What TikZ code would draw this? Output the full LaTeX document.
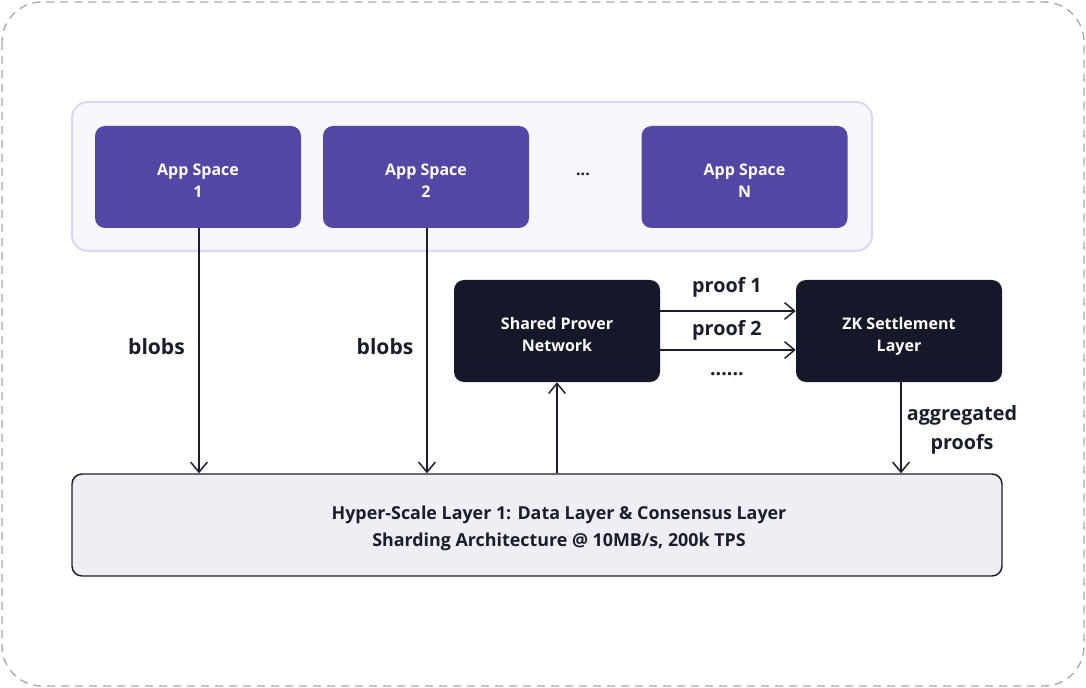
\documentclass[tikz,border=0pt]{standalone}
\usepackage{fontspec}
\setmainfont{Open Sans}
\usetikzlibrary{arrows.meta}
\definecolor{frame}{HTML}{A8A8A8}
\definecolor{groupfill}{HTML}{F7F6FD}
\definecolor{groupline}{HTML}{DAD6F5}
\definecolor{appfill}{HTML}{5347A6}
\definecolor{darkfill}{HTML}{151828}
\definecolor{basefill}{HTML}{EEEEF4}
\definecolor{ink}{HTML}{1A1D2B}
\newcommand{\basepad}{\hspace*{33pt}}
\tikzset{
  px/.style={x=0.75pt,y=-0.75pt},
  boxtext/.style={font=\fontsize{12}{16.5}\selectfont\bfseries,align=center,
    text height=31pt,text depth=0pt},
  appbox/.style={draw=none,fill=appfill,rounded corners=7.5pt,text=white,boxtext,
    minimum width=154.5pt,minimum height=76.5pt,inner sep=0pt},
  darkbox/.style={draw=none,fill=darkfill,rounded corners=7.5pt,text=white,boxtext,
    minimum width=154.5pt,minimum height=76.5pt,inner sep=0pt},
  flow/.style={draw=ink,line width=1.1pt,-{Straight Barb[length=7.5pt,width=12.5pt,line width=1.1pt]}},
  lbl/.style={text=ink,font=\fontsize{15.8}{20}\selectfont\bfseries,inner sep=0pt},
  slbl/.style={text=ink,font=\fontsize{14.8}{22}\selectfont\bfseries,inner sep=0pt,align=center},
}
\begin{document}
\begin{tikzpicture}[px]
\useasboundingbox (0,0) rectangle (1086,688);
% outer frame
\draw[frame,dashed,line width=1pt,dash pattern=on 6pt off 4.5pt,rounded corners=30pt] (2,2) rectangle (1084,686);
% application spaces group
\draw[groupline,fill=groupfill,line width=1.5pt,rounded corners=12pt] (72,102) rectangle (872,251);
\node[appbox] (a1) at (198,177) {App Space\\1};
\node[appbox] (a2) at (426,177) {App Space\\2};
\node[text=ink,font=\fontsize{12}{16}\selectfont\bfseries] (dots) at (583,174) {...};
\node[appbox] (an) at (744.5,177) {App Space\\N};
% prover and settlement
\node[darkbox] (sp) at (557,331) {Shared Prover\\Network};
\node[darkbox] (zk) at (899,331) {ZK Settlement\\Layer};
% base layer
\node[draw=ink,line width=1.1pt,fill=basefill,rounded corners=7.5pt,
  minimum width=697.5pt,minimum height=76.5pt,inner sep=0pt,align=center,
  text=ink,font=\fontsize{13.4}{20}\selectfont\bfseries,
  text height=32pt,text depth=0pt] (l1) at (537,525)
  {\basepad Hyper-Scale Layer 1: Data Layer \& Consensus Layer\\\basepad Sharding Architecture @ 10MB/s, 200k TPS};
% connectors
\draw[flow] (a1.south -| 199,0) -- (l1.north -| 199,0);
\draw[flow] (a2.south -| 427,0) -- (l1.north -| 427,0);
\draw[flow] (l1.north -| sp) -- (sp.south);
\draw[flow] (sp.east |- 0,311) -- (zk.west |- 0,311);
\draw[flow] (sp.east |- 0,350) -- (zk.west |- 0,350);
\draw[flow] (zk.south -| 901,0) -- (l1.north -| 901,0);
% labels
\node[lbl] (b1) at (156.5,347) {blobs};
\node[lbl] (b2) at (385,347) {blobs};
\node[slbl] (p1) at (727,287) {proof 1};
\node[slbl] (p2) at (727,330) {proof 2};
\node[slbl] (pd) at (727,374) {......};
\node[slbl] (ag) at (962,430) {aggregated\\proofs};
\end{tikzpicture}
\end{document}
